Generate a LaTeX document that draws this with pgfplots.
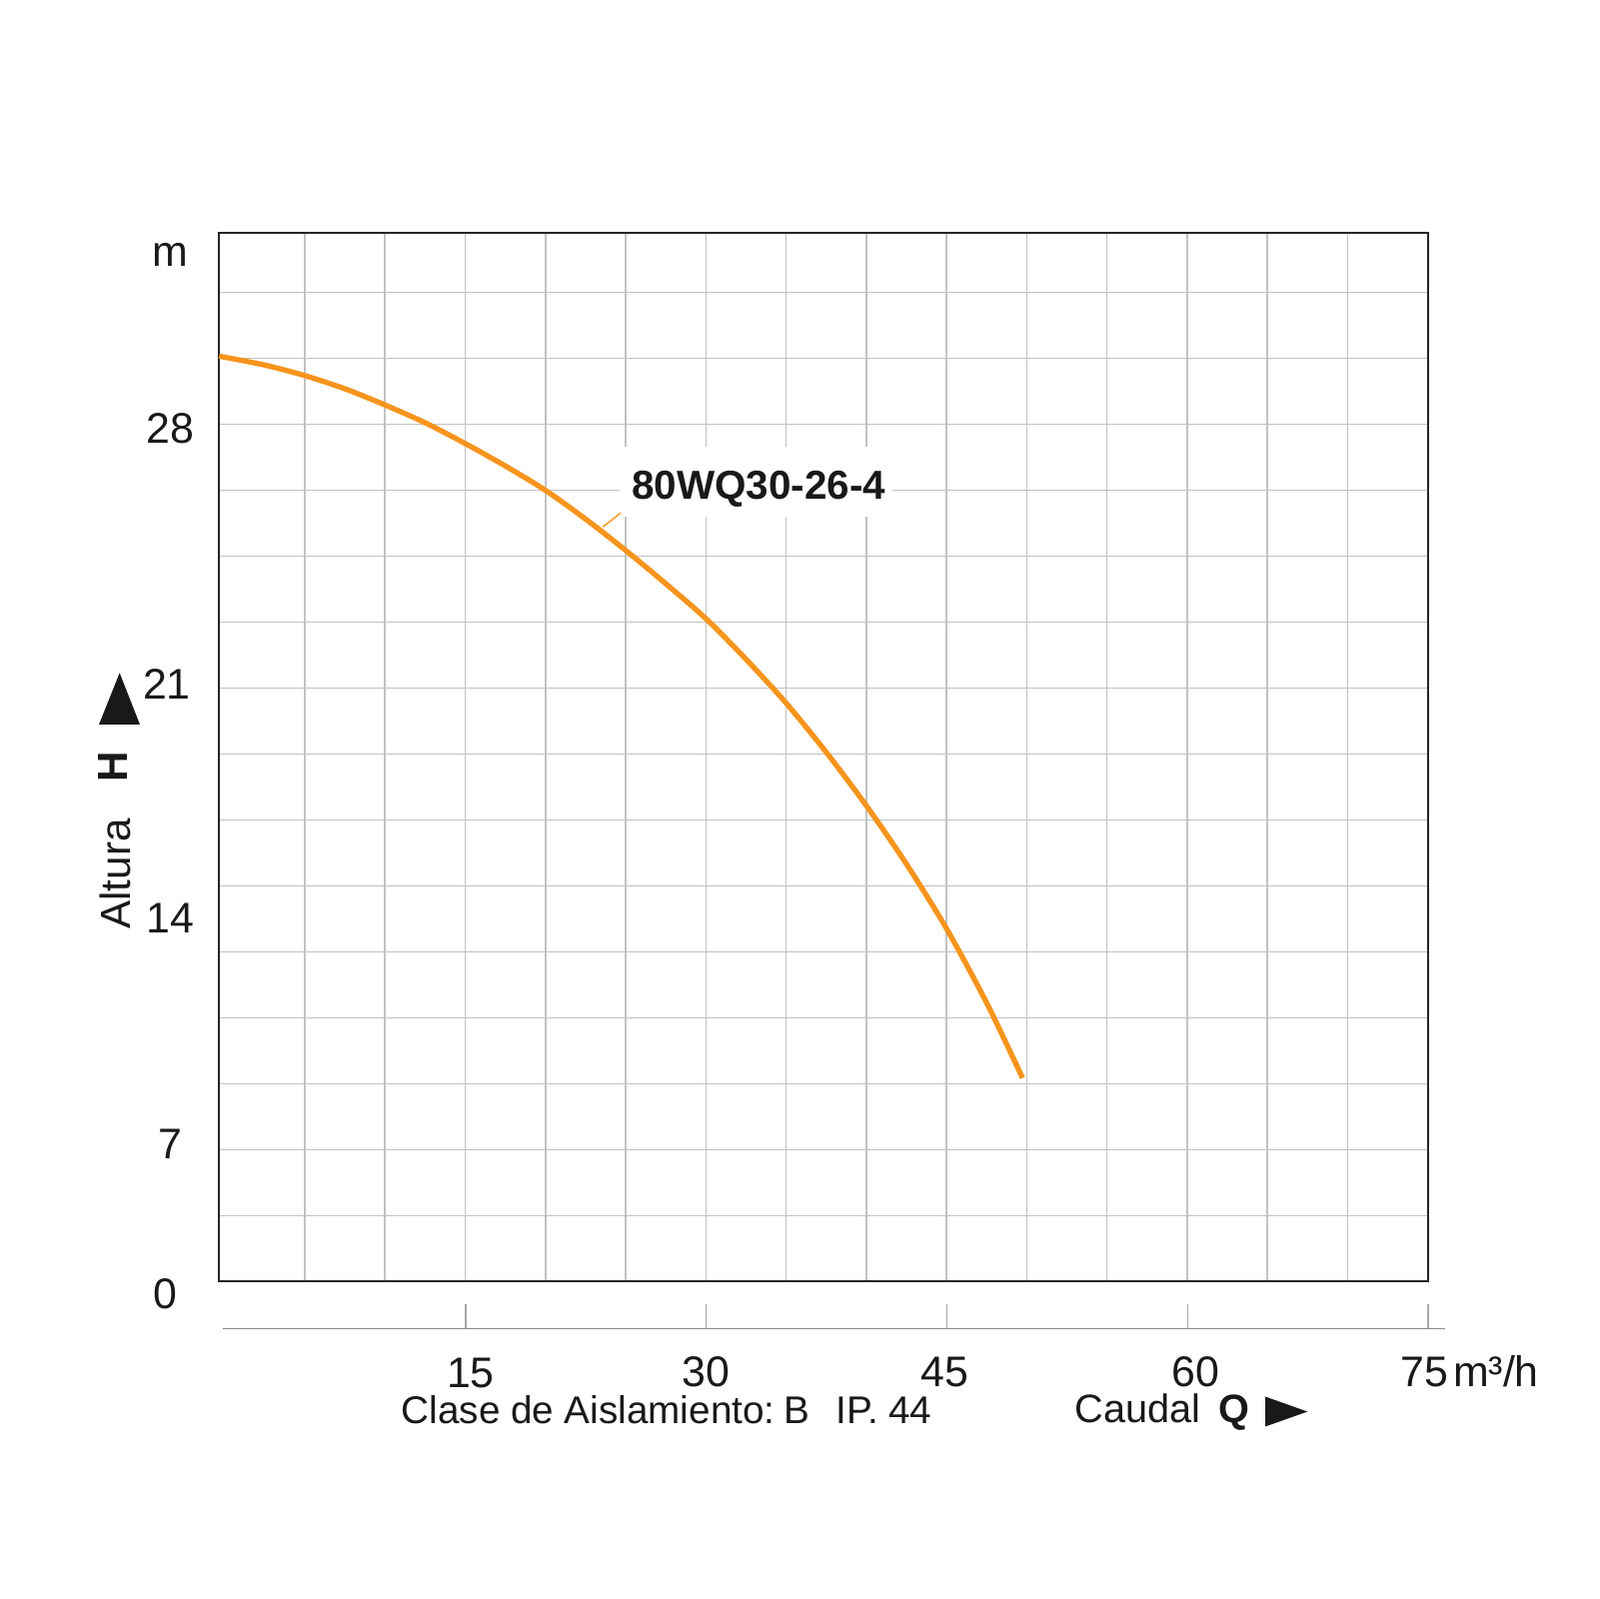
\documentclass[border=0pt]{standalone}
\usepackage{fontspec}
\setmainfont{Liberation Sans}
\usepackage{pgfplots}
\pgfplotsset{compat=1.18}
\definecolor{curveor}{HTML}{F7941D}
\begin{document}
\begin{tikzpicture}
\begin{scope}[x=0.1mm,y=-0.1mm,shift={(0mm,160mm)}]
\path (0,0) rectangle (1600,1600);
\end{scope}
\begin{axis}[at={(21.93mm,31.77mm)}, anchor=south west, scale only axis,
  width=120.94mm, height=104.9mm,
  xmin=-0.34, xmax=75, ymin=0, ymax=31.79,
  xtick={5,10,...,70}, ytick={2,4,...,30},
  xticklabels={}, yticklabels={},
  major tick length=0pt,
  grid=major,
  major grid style={line width=0.45pt, black!24},
  axis line style={line width=0.65pt, black!85},
  clip=false]
\addplot[curveor, line width=1.5pt, smooth] coordinates {
(-0.34,28.06) (2.5,27.79) (5,27.47) (7.5,27.07) (10,26.58) (12.5,26.04)
(15,25.41) (17.5,24.73) (20,23.99) (22.5,23.12) (25,22.17) (27.5,21.16)
(30,20.1) (32.5,18.87) (35,17.54) (37.5,16.05) (40,14.43) (42.5,12.66)
(45,10.7) (47.5,8.45) (49.74,6.17)};
\end{axis}
\begin{scope}[x=0.1mm,y=-0.1mm,shift={(0mm,160mm)}]
% label box
\fill[white] (620,447) rectangle (893,517);
\draw[curveor, line width=0.4pt] (603.3,527.3) -- (621,513.3);
\node[anchor=base west, inner sep=0pt, font=\fontsize{11.5}{13}\selectfont\bfseries, text=black!90] at (631.7,500) {80WQ30-26-4};
% tick labels
\begin{scope}[every node/.style={anchor=base, inner sep=0pt, font=\fontsize{12.2}{14}\selectfont, text=black!90}]
\node at (170,266.7) {m};
\node at (170.3,443.3) {28};
\node at (167,699.3) {21};
\node at (170.8,933.3) {14};
\node at (170.5,1160) {7};
\node at (165,1309.3) {0};
\node at (471,1389) {15};
\node at (706.7,1388) {30};
\node at (945.8,1388) {45};
\node at (1196.7,1388) {60};
\node at (1425.8,1388) {75};
\node[anchor=base west] at (1453.3,1388) {m³/h};
\end{scope}
% bottom secondary axis
\draw[black!45, line width=0.45pt] (222.7,1329.3) -- (1446,1329.3);
\foreach \xx in {466,706.7,947.6,1188.5,1428.7}{
  \draw[black!35, line width=0.45pt] (\xx,1305) -- (\xx,1329.3);
}
% captions
\node[anchor=base west, inner sep=0pt, font=\fontsize{11}{13}\selectfont, text=black!90] at (401,1425) {Clase de Aislamiento:\kern2.5pt B\kern7.5pt IP. 44};
\node[anchor=base west, inner sep=0pt, font=\fontsize{11.3}{13}\selectfont, text=black!90] at (1075,1424) {Caudal};
\node[anchor=base west, inner sep=0pt, font=\fontsize{11.3}{13}\selectfont\bfseries, text=black!90] at (1219,1424) {Q};
\fill[black!90] (1266,1397.5) -- (1266,1427.5) -- (1308.3,1412.5) -- cycle;
% y caption
\node[rotate=90, anchor=base, inner sep=0pt, font=\fontsize{12}{14}\selectfont, text=black!90] at (130,874.5) {Altura};
\node[rotate=90, anchor=base, inner sep=0pt, font=\fontsize{12}{14}\selectfont\bfseries, text=black!90] at (127.3,767) {H};
\fill[black!90] (99,725) -- (140,725) -- (119.7,673.3) -- cycle;
\end{scope}
\end{tikzpicture}
\end{document}
